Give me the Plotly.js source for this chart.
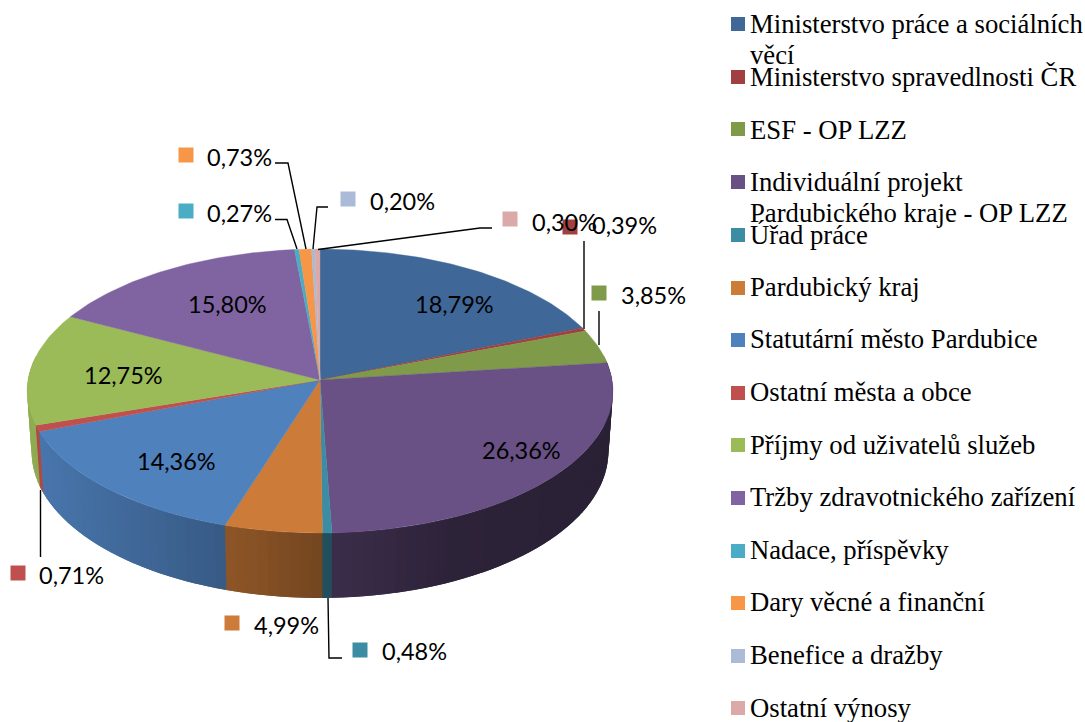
<!DOCTYPE html>
<html><head><meta charset="utf-8">
<script src="https://cdn.plot.ly/plotly-3.0.1.min.js"></script>
<style>html,body{margin:0;padding:0;background:#fff}#c{width:1085px;height:722px}</style>
</head><body><div id="c"></div>
<script>
// ---- data ----
const categories = ["Ministerstvo práce a sociálních věcí","Ministerstvo spravedlnosti ČR","ESF - OP LZZ","Individuální projekt Pardubického kraje - OP LZZ","Úřad práce","Pardubický kraj","Statutární město Pardubice","Ostatní města a obce","Příjmy od uživatelů služeb","Tržby zdravotnického zařízení","Nadace, příspěvky","Dary věcné a finanční","Benefice a dražby","Ostatní výnosy"];
const shares = [18.79,0.39,3.85,26.36,0.48,4.99,14.36,0.71,12.75,15.80,0.27,0.73,0.20,0.30];
const sliceColors = ["#3f6797","#a04040","#7f9a48","#695185","#3c8da3","#cc7b38","#4f81bd","#c0504d","#9bbb59","#8064a2","#4bacc6","#f79646","#aabad7","#dba9a8"];

// ---- layout of the drawing (axis units = px) ----
const cx=320, cy=380, B=292, A=141.1, p=0.0775;
const labelPos = [[414,304],[591,225],[620,295],[481,450],[381,651],[253,625],[136,461],[38,575],[83,375],[187,304],[206,213],[206,157],[369,201],[531,222]];
const keyPos = [null,[570,227],[599,293],null,[360,650],[232,623],null,[18,573],null,null,[186,211],[186,155],[348,199],[510,219]];
const legendY = [24,77,129,182,235,288,340,393,445,498,551,603,656,708];
const legendTextY = [24,77,130,182,235,287,339,392,445,497,550,602,655,708];
const legendLines = [["Ministerstvo práce a sociálních","věcí"],["Ministerstvo spravedlnosti ČR"],["ESF - OP LZZ"],["Individuální projekt","Pardubického kraje - OP LZZ"],["Úřad práce"],["Pardubický kraj"],["Statutární město Pardubice"],["Ostatní města a obce"],["Příjmy od uživatelů služeb"],["Tržby zdravotnického zařízení"],["Nadace, příspěvky"],["Dary věcné a finanční"],["Benefice a dražby"],["Ostatní výnosy"]];
const leaders = [
 [[275,163],[288,163],[306,249]],
 [[275,219.5],[287,219.5],[297,249]],
 [[328,207],[317,207],[313,249]],
 [[492,228],[480,228],[318,249.5]],
 [[584,241],[584,329]],
 [[599,311],[599,345]],
 [[40.5,490],[40.5,557]],
 [[328,598],[329,658],[342,658]]
];

// ---- projection ----
function topPt(t){const u=Math.sin(t),v=Math.cos(t),k=1+p*v;return [cx+B*u/k, cy-A*v/k];}
function botPt(t){const u=Math.sin(t),v=Math.cos(t),k=1+p*v,q=topPt(t);return [cx+0.985*B*u/k, q[1]+60-5*v];}
function shadeAt(x){
  const s=[[30,.92],[225,.70],[320,.57],[450,.43],[610,.40]];
  if(x<=s[0][0])return s[0][1];
  for(let i=1;i<s.length;i++) if(x<=s[i][0]){const f=(x-s[i-1][0])/(s[i][0]-s[i-1][0]);return s[i-1][1]+f*(s[i][1]-s[i-1][1]);}
  return s[s.length-1][1];
}
function shadeColor(hex,m){const n=parseInt(hex.slice(1),16);return `rgb(${Math.round((n>>16)*m)},${Math.round(((n>>8)&255)*m)},${Math.round((n&255)*m)})`;}

const total=shares.reduce((a,b)=>a+b,0);
let acc=0;
const bounds=shares.map(s=>{const a=acc;acc+=s;return [a/total*2*Math.PI,acc/total*2*Math.PI];});
const traces=[];
const base={mode:"lines",hoverinfo:"skip",showlegend:false,fill:"toself"};
const deg=Math.PI/180;

// side wall: painted strip by strip, each running under the next one, so no seams show
const wallLo=80*deg, wallHi=280*deg;
const wallEnd=(a,b)=>Math.min(b,wallHi);
bounds.forEach(([a,b],i)=>{
  const lo=Math.max(a,wallLo), hi=wallEnd(a,b);
  if(hi<=lo) return;
  const n=Math.max(1,Math.ceil((hi-lo)/(2*deg)));
  for(let j=0;j<n;j++){
    const t0=lo+(hi-lo)*j/n,t1=lo+(hi-lo)*(j+1)/n;
    // extend past the strip's end (over the next strip's start), except the last wall strip
    const te=Math.min(t1+2*deg,wallHi);
    const P=[],Q=[];
    for(let k=0;k<=3;k++){const t=t0+(te-t0)*k/3;P.push(topPt(t));Q.unshift(botPt(t));}
    const R=P.concat(Q,[P[0]]);
    const c=shadeColor(sliceColors[i],shadeAt((topPt(t0)[0]+topPt(t1)[0])/2));
    traces.push({...base,x:R.map(q=>q[0]),y:R.map(q=>q[1]),fillcolor:c,line:{color:c,width:0}});
  }
});
// top faces
bounds.forEach(([a,b],i)=>{
  const n=Math.max(2,Math.ceil((b-a)/(1*deg)));
  const xs=[cx],ys=[cy];
  for(let j=0;j<=n;j++){const q=topPt(a+(b-a)*j/n);xs.push(q[0]);ys.push(q[1]);}
  xs.push(cx);ys.push(cy);
  traces.push({...base,name:categories[i],x:xs,y:ys,fillcolor:sliceColors[i],line:{color:sliceColors[i],width:0.4}});
});
// leader lines
const lx=[],ly=[];
leaders.forEach(l=>{l.forEach(q=>{lx.push(q[0]);ly.push(q[1]);});lx.push(null);ly.push(null);});
traces.push({x:lx,y:ly,mode:"lines",hoverinfo:"skip",showlegend:false,line:{color:"#000",width:1.4}});
// label keys
const kIdx=keyPos.map((k,i)=>k?i:-1).filter(i=>i>=0);
traces.push({x:kIdx.map(i=>keyPos[i][0]),y:kIdx.map(i=>keyPos[i][1]),mode:"markers",hoverinfo:"skip",showlegend:false,
  marker:{symbol:"square",size:15,color:kIdx.map(i=>sliceColors[i]),line:{width:0}}});
// legend keys
traces.push({x:categories.map(()=>738),y:legendY,mode:"markers",hoverinfo:"skip",showlegend:false,
  marker:{symbol:"square",size:14,color:sliceColors,line:{width:0}}});

const annotations=[];
shares.forEach((s,i)=>annotations.push({x:labelPos[i][0],y:labelPos[i][1],text:s.toFixed(2).replace(".",",")+"%",
  showarrow:false,xanchor:"left",yanchor:"middle",borderpad:0,font:{family:"Lato, 'Noto Sans', sans-serif",size:23.5,color:"#000"}}));
legendLines.forEach((ls,i)=>ls.forEach((t,j)=>annotations.push({x:749,y:legendTextY[i]+j*31,text:t,showarrow:false,
  xanchor:"left",yanchor:"middle",borderpad:0,font:{family:"'Liberation Serif', serif",size:26.7,color:"#000"}})));

Plotly.newPlot("c",traces,{
  width:1085,height:722,margin:{l:0,r:0,t:0,b:0},paper_bgcolor:"#fff",plot_bgcolor:"#fff",showlegend:false,
  xaxis:{range:[0,1085],visible:false,fixedrange:true},
  yaxis:{range:[722,0],visible:false,fixedrange:true},
  annotations
},{staticPlot:true,displayModeBar:false});
</script></body></html>
